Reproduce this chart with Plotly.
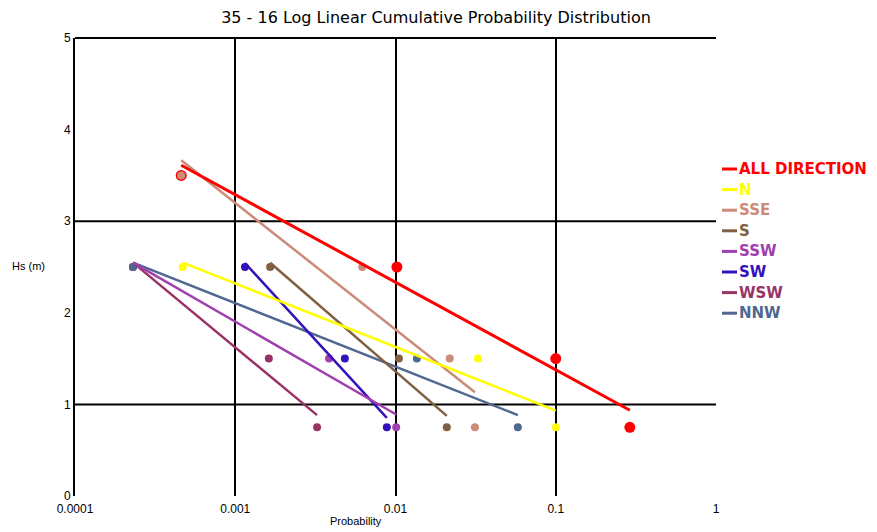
import numpy as np
import plotly.graph_objects as go

# ---- data ----
series_names = ["ALL DIRECTION", "N", "SSE", "S", "SSW", "SW", "WSW", "NNW"]
series_colors = ["#FF0000", "#FFFF00", "#CC8A78", "#806040", "#A040B0", "#3311BB", "#993366", "#506890"]

all_x = [0.00046, 0.0102, 0.1, 0.29]
all_y = [3.5, 2.5, 1.5, 0.75]
n_x = [0.00047, 0.0327, 0.1]
n_y = [2.5, 1.5, 0.75]
sse_x = [0.00046, 0.0062, 0.0218, 0.0313]
sse_y = [3.5, 2.5, 1.5, 0.75]
s_x = [0.00165, 0.0105, 0.0209]
s_y = [2.5, 1.5, 0.75]
ssw_x = [0.00023, 0.00385, 0.0101]
ssw_y = [2.5, 1.5, 0.75]
sw_x = [0.00115, 0.00483, 0.00883]
sw_y = [2.5, 1.5, 0.75]
wsw_x = [0.00023, 0.00162, 0.00324]
wsw_y = [2.5, 1.5, 0.75]
nnw_x = [0.00023, 0.0136, 0.058]
nnw_y = [2.5, 1.5, 0.75]

xs = [all_x, n_x, sse_x, s_x, ssw_x, sw_x, wsw_x, nnw_x]
ys = [all_y, n_y, sse_y, s_y, ssw_y, sw_y, wsw_y, nnw_y]

x_tickvals = [0.0001, 0.001, 0.01, 0.1, 1]
x_ticktext = ["0.0001", "0.001", "0.01", "0.1", "1"]
y_tickvals = [0, 1, 2, 3, 4, 5]

FONT = "Liberation Sans, Arial, sans-serif"
WIDE = "DejaVu Sans, Liberation Sans, sans-serif"

# page puts the figure 8px in from the top-left corner
OFF = 8
W, H = 877 - OFF, 532 - OFF
ML, MT = 75 - OFF, 38 - OFF
PR, PB = 716 - OFF, 496 - OFF
MR, MB = W - PR, H - PB
PW, PH = PR - ML, PB - MT


def px_to_paper(px, py):
    return (px - OFF - ML) / PW, (PB - (py - OFF)) / PH


fig = go.Figure()

# data markers
for i, (name, col, x, y) in enumerate(zip(series_names, series_colors, xs, ys)):
    fig.add_trace(go.Scatter(
        x=x, y=y, mode="markers",
        marker=dict(symbol="circle", size=11 if i == 0 else 8, color=col,
                    line=dict(width=0)),
        showlegend=False, hoverinfo="x+y", name=name))

# log-linear trend lines (least squares in log10(x))
lines = []
for i, (name, col, x, y) in enumerate(zip(series_names, series_colors, xs, ys)):
    lx = np.log10(np.array(x))
    b, a = np.polyfit(lx, np.array(y), 1)
    ex = np.array([lx.min(), lx.max()])
    lines.append(go.Scatter(
        x=10 ** ex, y=a + b * ex, mode="lines",
        line=dict(color=col, width=3 if i == 0 else 2.5),
        name=name, showlegend=False))
for tr in reversed(lines):
    fig.add_trace(tr)

shapes = []
for yv in [1, 3]:
    shapes.append(dict(type="line", xref="paper", yref="y", x0=0, x1=1, y0=yv, y1=yv,
                       line=dict(color="black", width=2), layer="below"))
shapes.append(dict(type="line", xref="paper", yref="paper", x0=0, x1=1, y0=1, y1=1,
                   line=dict(color="black", width=2), layer="below"))

annotations = [
    dict(text="Hs (m)", xref="paper", yref="paper", x=px_to_paper(28, 0)[0],
         y=px_to_paper(0, 266)[1], xanchor="center", yanchor="middle",
         showarrow=False, font=dict(size=11, family=FONT)),
    dict(text="Probability", xref="paper", yref="paper", x=px_to_paper(356, 0)[0],
         y=px_to_paper(0, 521)[1], xanchor="center", yanchor="middle",
         showarrow=False, font=dict(size=11, family=FONT)),
]

# legend: short coloured line + coloured text
for i, (name, col) in enumerate(zip(series_names, series_colors)):
    cy = 169 + 20.6 * i
    x0, yy = px_to_paper(722, cy)
    x1, _ = px_to_paper(737, cy)
    shapes.append(dict(type="line", xref="paper", yref="paper", x0=x0, x1=x1,
                       y0=yy, y1=yy, line=dict(color=col, width=3)))
    annotations.append(dict(text="<b>%s</b>" % name, xref="paper", yref="paper",
                            x=px_to_paper(737, 0)[0], y=yy, xanchor="left",
                            yanchor="middle", showarrow=False,
                            font=dict(size=15, color=col, family=WIDE)))

fig.update_layout(
    width=W, height=H,
    margin=dict(l=ML, r=MR, t=MT, b=MB),
    paper_bgcolor="white", plot_bgcolor="white",
    font=dict(family=FONT, size=12, color="black"),
    title=dict(text="35 - 16 Log Linear Cumulative Probability Distribution",
               x=(436 - OFF) / W, xanchor="center", y=1 - (17 - OFF) / H, yanchor="middle",
               font=dict(size=16, color="black", family=WIDE)),
    showlegend=False,
    shapes=shapes,
    annotations=annotations,
)

fig.update_xaxes(type="log", range=[-4, 0], tickvals=x_tickvals, ticktext=x_ticktext,
                 showgrid=True, gridcolor="black", gridwidth=2,
                 showline=False, zeroline=False, ticks="", automargin=False,
                 tickfont=dict(size=12), ticklabelstandoff=4)
fig.update_yaxes(range=[0, 5], tickvals=y_tickvals, showgrid=False, zeroline=False,
                 showline=True, linecolor="black", linewidth=2, ticks="",
                 automargin=False, tickfont=dict(size=12))

fig.write_html("out.html")
